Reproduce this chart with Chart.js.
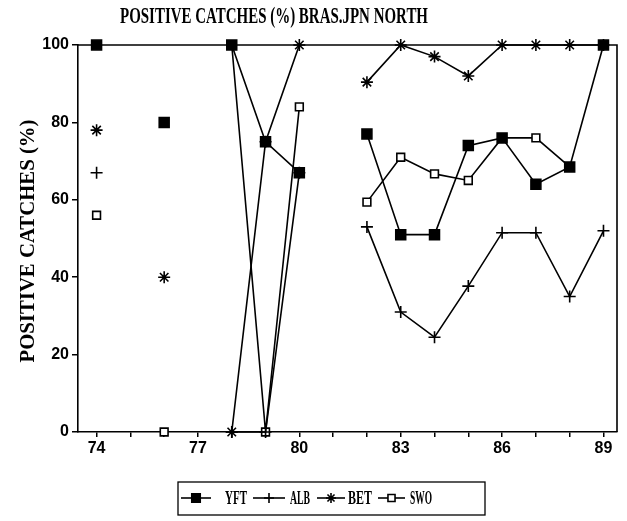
<!DOCTYPE html>
<html>
<head>
<meta charset="utf-8">
<script src="https://cdn.jsdelivr.net/npm/chart.js@4.4.1/dist/chart.umd.min.js"></script>
<style>
  html, body { margin: 0; padding: 0; background: #fff; }
  canvas { display: block; }
</style>
</head>
<body>
<canvas id="grafico" width="627" height="521"></canvas>
<script>
// anos (19xx) e % de capturas positivas por especie
const anos = [74, 75, 76, 77, 78, 79, 80, 81, 82, 83, 84, 85, 86, 87, 88, 89];
const yft = [100, null, 80, null, 100, 75, 67, null, 77, 51, 51, 74, 76, 64, 68.5, 100];
const alb = [67, null, null, null, 0, 0, 67, null, 53, 31, 24.5, 37.7, 51.5, 51.5, 35, 52];
const bet = [78, null, 40, null, 0, 75, 100, null, 90.4, 100, 97, 92, 100, 100, 100, 100];
const swo = [56, null, 0, null, 100, 0, 84, null, 59.4, 71, 66.7, 65, 76, 76, 68.5, null];
const anosRotulo = [74, 77, 80, 83, 86, 89];
const yTicks = [0, 20, 40, 60, 80, 100];

const titulo = 'POSITIVE CATCHES (%) BRAS.JPN NORTH';
const tituloY = 'POSITIVE CATCHES (%)';
const especies = ['YFT', 'ALB', 'BET', 'SWO'];

const pontos = arr => anos.map((x, i) => ({ x: x, y: arr[i] }));

const estilos = [
  { pointStyle: 'rect', radius: 7, fill: '#000' },
  { pointStyle: 'cross', radius: 6, fill: '#000' },
  { pointStyle: 'star', radius: 6, fill: '#000' },
  { pointStyle: 'rect', radius: 5.5, fill: '#fff' }
];

function serie(label, arr, est) {
  return {
    label: label,
    data: pontos(arr),
    borderColor: '#000',
    borderWidth: 1.6,
    pointStyle: est.pointStyle,
    pointRadius: est.radius,
    pointBackgroundColor: est.fill,
    pointBorderColor: '#000',
    pointBorderWidth: 1.6,
    spanGaps: false,
    clip: false,
    tension: 0
  };
}

// texto ajustado a uma largura (fonte condensada do original)
function textoAjustado(ctx, txt, x, y, largura, fonte) {
  ctx.save();
  ctx.font = fonte;
  const w = ctx.measureText(txt).width;
  ctx.translate(x, y);
  ctx.scale(largura / w, 1);
  ctx.textAlign = 'center';
  ctx.textBaseline = 'alphabetic';
  ctx.fillStyle = '#000';
  ctx.fillText(txt, 0, 0);
  ctx.restore();
}

const decoracao = {
  id: 'decoracao',
  beforeDraw(chart) {
    const ctx = chart.ctx;
    ctx.save();
    ctx.fillStyle = '#fff';
    ctx.fillRect(0, 0, chart.width, chart.height);
    ctx.restore();
  },
  afterDraw(chart) {
    const ctx = chart.ctx;
    const a = chart.chartArea;
    // moldura
    ctx.save();
    ctx.strokeStyle = '#000';
    ctx.lineWidth = 1.6;
    ctx.beginPath();
    ctx.moveTo(a.left, a.top);
    ctx.lineTo(a.right, a.top);
    ctx.lineTo(a.right, a.bottom);
    ctx.stroke();
    ctx.restore();

    textoAjustado(ctx, titulo, 274, 23, 308, 'bold 24px "Liberation Serif"');

    ctx.save();
    ctx.translate(34, 241);
    ctx.rotate(-Math.PI / 2);
    textoAjustado(ctx, tituloY, 0, 0, 243, 'bold 20px "Liberation Serif"');
    ctx.restore();

    // legenda
    ctx.save();
    ctx.strokeStyle = '#000';
    ctx.lineWidth = 1.3;
    ctx.strokeRect(178, 482, 307, 33);
    const itens = [
      { x0: 181, x1: 211, tx: 236, tw: 22 },
      { x0: 253, x1: 285, tx: 300, tw: 20 },
      { x0: 317, x1: 345, tx: 360, tw: 24 },
      { x0: 378, x1: 405, tx: 421, tw: 22 }
    ];
    const yl = 498;
    itens.forEach((it, i) => {
      const est = estilos[i];
      ctx.strokeStyle = '#000';
      ctx.lineWidth = 1.6;
      ctx.beginPath();
      ctx.moveTo(it.x0, yl);
      ctx.lineTo(it.x1, yl);
      ctx.stroke();
      ctx.fillStyle = est.fill;
      Chart.helpers.drawPoint(ctx, {
        pointStyle: est.pointStyle,
        radius: i === 0 ? 6 : 5,
        rotation: 0,
        borderWidth: 1.6
      }, (it.x0 + it.x1) / 2, yl);
      textoAjustado(ctx, especies[i], it.tx, yl + 6, it.tw, 'bold 18px "Liberation Serif"');
    });
    ctx.restore();
  }
};

new Chart(document.getElementById('grafico').getContext('2d'), {
  type: 'line',
  data: {
    datasets: [
      serie('YFT', yft, estilos[0]),
      serie('ALB', alb, estilos[1]),
      serie('BET', bet, estilos[2]),
      serie('SWO', swo, estilos[3])
    ]
  },
  options: {
    responsive: false,
    animation: false,
    devicePixelRatio: 1,
    layout: { padding: { left: 0, right: 10, top: 45, bottom: 59 } },
    plugins: {
      legend: { display: false },
      title: { display: false },
      tooltip: { enabled: false }
    },
    scales: {
      x: {
        type: 'linear',
        min: 73.45,
        max: 89.4,
        afterBuildTicks: s => { s.ticks = anos.map(v => ({ value: v })); },
        afterFit: s => { s.height = 30; },
        ticks: {
          autoSkip: false,
          maxRotation: 0,
          padding: 2,
          color: '#000',
          font: { family: '"Liberation Sans"', size: 16, weight: 'bold' },
          callback: v => anosRotulo.includes(v) ? String(v) : ''
        },
        grid: { drawOnChartArea: false, tickLength: 5, color: '#000', lineWidth: 1.5 },
        border: { color: '#000', width: 1.6 }
      },
      y: {
        min: 0,
        max: 100,
        afterBuildTicks: s => { s.ticks = yTicks.map(v => ({ value: v })); },
        afterFit: s => { s.width = 78; },
        ticks: {
          padding: 3,
          color: '#000',
          font: { family: '"Liberation Sans"', size: 16, weight: 'bold' }
        },
        grid: { drawOnChartArea: false, tickLength: 6, color: '#000', lineWidth: 1.5 },
        border: { color: '#000', width: 1.6 }
      }
    }
  },
  plugins: [decoracao]
});
</script>
</body>
</html>
